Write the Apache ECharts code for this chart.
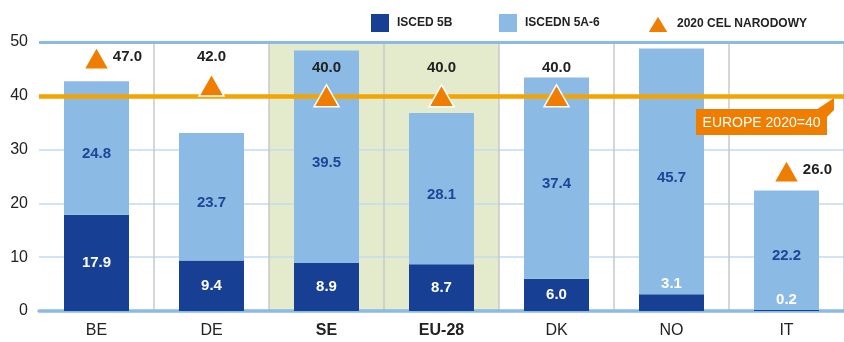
<!DOCTYPE html>
<html>
<head>
<meta charset="utf-8">
<script src="https://cdn.jsdelivr.net/npm/echarts@6/dist/echarts.min.js"></script>
<style>
  html, body { margin: 0; padding: 0; background: #fff; }
  #chart { width: 844px; height: 342px; }
</style>
</head>
<body>
<div id="chart"></div>
<script>
// Tertiary attainment by country: ISCED 5B and ISCED 5A-6 shares (stacked),
// national 2020 targets and the common European target.
const categories = ['BE', 'DE', 'SE', 'EU-28', 'DK', 'NO', 'IT'];
const isced5B = [17.9, 9.4, 8.9, 8.7, 6.0, 3.1, 0.2];
const isced5A6 = [24.8, 23.7, 39.5, 28.1, 37.4, 45.7, 22.2];
const nationalTarget = [47.0, 42.0, 40.0, 40.0, 40.0, null, 26.0];
const europeTarget = 40;
const europeLabel = 'EUROPE 2020=40';
const highlighted = ['SE', 'EU-28'];
const boldCategories = ['SE', 'EU-28'];
const sideLabelCategories = ['BE', 'IT'];
const yMin = 0, yMax = 50, yStep = 10;

const DARK = '#173f93';
const LIGHT = '#8bbae5';
const ORANGE = '#ef7d00';
const AMBER = '#f5a300';
const GREEN = '#e3ebcc';
const FONT = '"Liberation Sans", Arial, sans-serif';

const chart = echarts.init(document.getElementById('chart'), null, { renderer: 'canvas' });

const lowSegment = isced5B.map(v => ({
  value: v,
  label: v < 5
    ? { position: 'top', distance: 3 }
    : { position: 'inside' }
}));

const targetData = nationalTarget.map((v, i) => {
  if (v == null) return null;
  const side = sideLabelCategories.includes(categories[i]);
  return {
    value: v,
    label: side
      ? { position: 'right', distance: 3, offset: [0, -1] }
      : { position: 'top', distance: 9 }
  };
});

const option = {
  animation: false,
  textStyle: { fontFamily: FONT },
  grid: { left: 39, right: -9, top: 42, bottom: 31, containLabel: false },
  legend: [
    { data: [{ name: 'ISCED 5B', icon: 'rect' }], left: 366, top: 9 },
    { data: [{ name: 'ISCEDN 5A-6', icon: 'rect' }], left: 494, top: 9 },
    { data: [{ name: '2020 CEL NARODOWY', icon: 'triangle' }], left: 641, top: 9, itemWidth: 22 }
  ].map(l => Object.assign({
    itemWidth: 18, itemHeight: 18, selectedMode: false,
    textStyle: { fontFamily: FONT, fontSize: 12, fontWeight: 'bold', color: '#222', padding: [0, 0, 0, 3] }
  }, l)),
  xAxis: [
    {
      type: 'category',
      data: categories,
      axisTick: { show: false },
      axisLine: { show: true, lineStyle: { color: LIGHT, width: 3.5 } },
      splitLine: { show: true, interval: (idx) => idx !== 0, lineStyle: { color: '#c9c9c9', width: 1.5 } },
      axisLabel: {
        interval: 0,
        margin: 12,
        fontSize: 16,
        color: '#222',
        formatter: v => boldCategories.includes(v) ? '{b|' + v + '}' : v,
        rich: { b: { fontSize: 16, fontWeight: 'bold', color: '#222', fontFamily: FONT } }
      }
    },
    {
      type: 'category',
      data: categories,
      show: false
    }
  ],
  yAxis: {
    type: 'value',
    min: yMin, max: yMax, interval: yStep,
    axisLine: { show: false },
    axisTick: { show: false },
    axisLabel: { fontSize: 16, color: '#222', margin: 11 },
    splitLine: { show: true, lineStyle: { color: '#c3dbf0', width: 1.5 } }
  },
  series: [
    {
      name: 'highlight',
      type: 'bar',
      xAxisIndex: 1,
      barWidth: '100%',
      z: -1,
      silent: true,
      itemStyle: { color: GREEN },
      data: categories.map(c => highlighted.includes(c) ? yMax : null)
    },
    {
      name: 'ISCED 5B',
      type: 'bar',
      stack: 'total',
      barWidth: 65,
      itemStyle: { color: DARK },
      label: {
        show: true,
        color: '#fff',
        fontSize: 15,
        fontWeight: 'bold',
        fontFamily: FONT,
        formatter: p => p.value.toFixed(1)
      },
      data: lowSegment
    },
    {
      name: 'ISCEDN 5A-6',
      type: 'bar',
      stack: 'total',
      barWidth: 65,
      itemStyle: { color: LIGHT },
      label: {
        show: true,
        position: 'inside',
        offset: [0, 6],
        color: '#1f4596',
        fontSize: 15,
        fontWeight: 'bold',
        fontFamily: FONT,
        formatter: p => p.value.toFixed(1)
      },
      data: isced5A6
    },
    {
      name: 'targets',
      type: 'line',
      data: [],
      z: 4,
      silent: true,
      markLine: {
        silent: true,
        symbol: ['none', 'none'],
        label: { show: false },
        data: [
          { yAxis: europeTarget, lineStyle: { color: AMBER, width: 4.5, type: 'solid' } },
          { yAxis: yMax, lineStyle: { color: LIGHT, width: 3, type: 'solid' } }
        ]
      }
    },
    {
      name: '2020 CEL NARODOWY',
      type: 'scatter',
      z: 6,
      symbol: 'triangle',
      symbolSize: [25, 22],
      itemStyle: { color: ORANGE, borderColor: '#fff', borderWidth: 1.5, opacity: 1 },
      label: {
        show: true,
        color: '#222',
        fontSize: 15,
        fontWeight: 'bold',
        fontFamily: FONT,
        formatter: p => p.value.toFixed(1)
      },
      data: targetData
    }
  ]
};

chart.setOption(option);

// Callout box for the European target, hanging under the target line.
const yLine = chart.convertToPixel({ yAxisIndex: 0 }, europeTarget);
const W = chart.getWidth();
const boxR = W - 17, boxL = boxR - 131, boxT = Math.round(yLine) + 13, boxH = 26;
chart.setOption({
  graphic: [
    {
      type: 'polygon',
      z: 10,
      shape: { points: [[boxR - 11, boxT + 1], [boxR + 7, boxT - 11], [boxR + 7, boxT + 1], [boxR, boxT + 8]] },
      style: { fill: ORANGE }
    },
    {
      type: 'rect',
      z: 10,
      shape: { x: boxL, y: boxT, width: boxR - boxL, height: boxH },
      style: { fill: ORANGE }
    },
    {
      type: 'text',
      z: 11,
      x: (boxL + boxR) / 2,
      y: boxT + boxH / 2 + 1,
      style: {
        text: europeLabel,
        fill: '#fff',
        font: '14px ' + FONT,
        align: 'center',
        verticalAlign: 'middle'
      }
    }
  ]
});
</script>
</body>
</html>
